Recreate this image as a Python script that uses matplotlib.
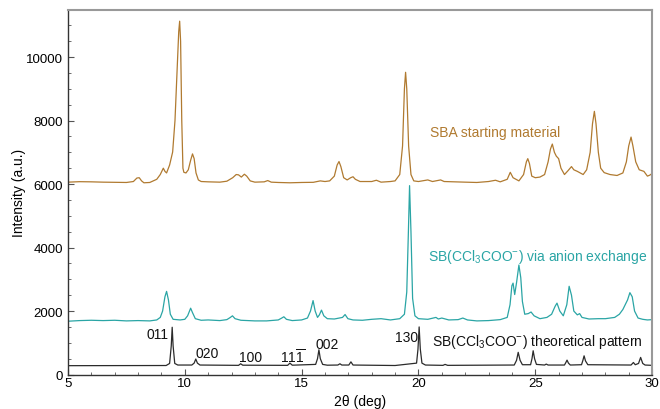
import matplotlib
matplotlib.use('Agg')
import matplotlib.pyplot as plt
from matplotlib.ticker import MultipleLocator

plt.rcParams['font.family'] = ['Liberation Sans', 'DejaVu Sans']
plt.rcParams['mathtext.fontset'] = 'custom'
plt.rcParams['mathtext.rm'] = 'Liberation Sans'
plt.rcParams['mathtext.it'] = 'Liberation Sans:italic'

# SBA starting material (measured)
sba_x = [5.0, 5.5, 6.0, 6.5, 7.0, 7.5, 7.8, 7.95, 8.05, 8.15, 8.25, 8.5, 8.8, 8.95, 9.08,
         9.15, 9.22, 9.35, 9.48, 9.58, 9.66, 9.74, 9.78, 9.82, 9.87, 9.92, 9.96, 10.05, 10.15,
         10.25, 10.33, 10.40, 10.48, 10.58, 10.7, 11.0, 11.5, 11.8, 12.05, 12.2, 12.3, 12.42,
         12.55, 12.65, 12.8, 13.0, 13.4, 13.55, 13.7, 14.0, 14.5, 15.0, 15.5, 15.8, 16.0, 16.2,
         16.4, 16.52, 16.6, 16.68, 16.8, 16.95, 17.1, 17.2, 17.3, 17.5, 18.0, 18.2, 18.4, 18.8,
         19.0, 19.2, 19.32, 19.4, 19.45, 19.5, 19.58, 19.68, 19.8, 20.0, 20.4, 20.6, 20.95, 21.1,
         21.5, 22.0, 22.5, 23.0, 23.3, 23.5, 23.8, 23.93, 24.05, 24.3, 24.5, 24.62, 24.68, 24.75,
         24.85, 25.0, 25.2, 25.4, 25.55, 25.65, 25.73, 25.82, 25.9, 26.0, 26.1, 26.25, 26.4,
         26.55, 26.65, 26.8, 26.9, 27.05, 27.2, 27.35, 27.45, 27.53, 27.6, 27.7, 27.8, 27.95,
         28.2, 28.5, 28.75, 28.9, 29.0, 29.1, 29.18, 29.3, 29.45, 29.65, 29.8, 29.9, 30.0]
sba_y = [6060, 6075, 6070, 6060, 6055, 6050, 6080, 6190, 6200, 6100, 6040, 6050, 6150, 6300, 6500,
         6400, 6350, 6600, 7010, 8000, 9400, 10800, 11130, 10500, 8000, 6500, 6370, 6350, 6450,
         6750, 6950, 6800, 6350, 6130, 6080, 6070, 6060, 6090, 6200, 6300, 6290, 6220,
         6310, 6250, 6100, 6060, 6070, 6110, 6060, 6050, 6040, 6050, 6055, 6100, 6080, 6100,
         6250, 6600, 6710, 6550, 6200, 6130, 6200, 6230, 6150, 6080, 6080, 6120, 6060, 6080,
         6100, 6300, 7200, 9000, 9520, 9000, 7200, 6300, 6100, 6080, 6130, 6080, 6130, 6080,
         6070, 6060, 6050, 6080, 6120, 6070, 6150, 6370, 6200, 6100, 6300, 6700, 6800, 6650,
         6250, 6200, 6220, 6300, 6700, 7100, 7260, 7000, 6880, 6800, 6500, 6300, 6420,
         6550, 6450, 6400, 6360, 6300, 6450, 7000, 7900, 8290, 7900, 7000, 6500, 6360,
         6300, 6270, 6350, 6700, 7200, 7480, 7200, 6700, 6450, 6400, 6250, 6280, 6330]

# SB(CCl3COO-) via anion exchange (measured)
sbx_x = [5.0, 5.5, 6.0, 6.5, 7.0, 7.5, 8.0, 8.5, 8.8, 8.95, 9.05, 9.15, 9.22, 9.3, 9.38, 9.5,
         9.8, 10.0, 10.12, 10.25, 10.33, 10.45, 10.7, 11.0, 11.5, 11.8, 11.95, 12.04, 12.15,
         12.4, 13.0, 13.5, 14.0, 14.15, 14.24, 14.35, 14.6, 15.0, 15.25, 15.38, 15.49, 15.58,
         15.68, 15.76, 15.85, 15.95, 16.1, 16.4, 16.75, 16.86, 16.98, 17.2, 17.6, 18.0, 18.4,
         18.8, 19.2, 19.4, 19.5, 19.57, 19.62, 19.68, 19.75, 19.85, 20.0, 20.4, 20.75, 20.85,
         21.0, 21.3, 21.7, 21.9, 22.1, 22.5, 23.0, 23.5, 23.8, 23.92, 24.0, 24.05, 24.12, 24.2,
         24.3, 24.38, 24.45, 24.55, 24.7, 24.82, 24.95, 25.2, 25.5, 25.7, 25.85, 25.93, 26.05,
         26.2, 26.35, 26.45, 26.55, 26.65, 26.8, 26.9, 27.0, 27.3, 27.7, 28.0, 28.4, 28.6,
         28.75, 28.85, 28.95, 29.05, 29.15, 29.25, 29.4, 29.6, 29.8, 30.0]
sbx_y = [1680, 1700, 1710, 1700, 1710, 1690, 1700, 1690, 1720, 1800, 2000, 2450, 2620, 2350, 1900, 1740,
         1720, 1740, 1850, 2090, 1950, 1760, 1710, 1720, 1700, 1730, 1800, 1850, 1760,
         1710, 1690, 1690, 1720, 1780, 1820, 1740, 1700, 1720, 1780, 2000, 2330, 2000,
         1800, 1880, 2030, 1850, 1760, 1750, 1800, 1890, 1760, 1720, 1710, 1740, 1760,
         1720, 1760, 1900, 2600, 4500, 5950, 4500, 2400, 1850, 1760, 1740, 1800, 1750,
         1780, 1720, 1730, 1780, 1720, 1690, 1700, 1730, 1800, 2200, 2800, 2880, 2520, 2900,
         3450, 3050, 2300, 1900, 1920, 1970, 1850, 1760, 1800, 1900, 2150, 2250, 2000,
         1850, 2200, 2780, 2500, 2000, 1880, 1920, 1800, 1750, 1760, 1760, 1800, 1900,
         2050, 2200, 2350, 2580, 2450, 2000, 1780, 1740, 1720, 1730]

# SB(CCl3COO-) theoretical pattern
theo_x = [5.0, 9.2, 9.35, 9.42, 9.46, 9.5, 9.57, 9.7, 10.3, 10.4, 10.47, 10.54, 10.65, 12.3,
          12.39, 12.48, 14.4, 14.5, 14.6, 15.6, 15.68, 15.74, 15.8, 15.9, 16.1, 16.55, 16.64,
          16.72, 17.02, 17.11, 17.2, 19.0, 19.92, 19.98, 20.03, 20.08, 20.15, 20.3, 21.05,
          21.14, 21.25, 24.1, 24.2, 24.27, 24.35, 24.45, 24.8, 24.86, 24.91, 24.97, 25.05,
          25.4, 25.47, 25.55, 26.25, 26.31, 26.36, 26.42, 26.5, 26.98, 27.04, 27.09, 27.15,
          27.25, 29.1, 29.2, 29.28, 29.42, 29.51, 29.6, 29.7, 30.0]
theo_y = [280, 285, 350, 900, 1490, 900, 350, 300, 300, 360, 490, 360, 300, 290,
          340, 295, 290, 360, 295, 320, 500, 780, 500, 320, 295, 300, 340,
          300, 300, 400, 300, 285, 360, 800, 1500, 800, 360, 300, 290,
          320, 290, 300, 450, 700, 450, 310, 310, 500, 750, 500, 320,
          300, 330, 300, 300, 380, 455, 360, 300, 310, 450, 590, 430,
          310, 300, 380, 310, 350, 540, 350, 300, 290]

# Miller index labels
hkl_text = ['011', '020', '100', r'11$\overline{1}$', '002', '130']
hkl_x = [8.83, 10.95, 12.8, 14.6, 16.1, 19.5]
hkl_y = [1275, 680, 560, 560, 960, 1180]

brown = '#b07a30'
teal = '#2aa5a5'
dark = '#2b2b2b'

fig = plt.figure(figsize=(6.6, 4.1), dpi=100)
ax = fig.add_axes([0.103, 0.084, 0.885, 0.889])

ax.plot(sba_x, sba_y, color=brown, lw=0.9)
ax.plot(sbx_x, sbx_y, color=teal, lw=0.9)
ax.plot(theo_x, theo_y, color=dark, lw=0.9)

for t, x, y in zip(hkl_text, hkl_x, hkl_y):
    ax.text(x, y, t, ha='center', va='center', fontsize=10, color='#111111')

ax.text(20.5, 7640, 'SBA starting material', color=brown, fontsize=10, va='center')
ax.text(20.41, 3730, r'SB(CCl$_3$COO$^{-}$) via anion exchange', color=teal,
        fontsize=10, va='center')
ax.text(20.58, 1055, r'SB(CCl$_3$COO$^{-}$) theoretical pattern', color='#111111',
        fontsize=10, va='center')

ax.set_xlim(5, 30)
ax.set_ylim(0, 11480)
ax.xaxis.set_major_locator(MultipleLocator(5))
ax.xaxis.set_minor_locator(MultipleLocator(1))
ax.yaxis.set_major_locator(MultipleLocator(2000))
ax.yaxis.set_minor_locator(MultipleLocator(500))
ax.tick_params(which='both', direction='in', labelsize=9.5, color='#555555')
ax.tick_params(which='major', length=4)
ax.tick_params(which='minor', length=2.5)
ax.tick_params(axis='x', pad=1.5)

for s in ['top', 'right']:
    ax.spines[s].set_color('#999999')
    ax.spines[s].set_linewidth(1.5)
for s in ['left', 'bottom']:
    ax.spines[s].set_color('#333333')
    ax.spines[s].set_linewidth(1.0)

ax.set_xlabel('2θ (deg)', fontsize=10)
ax.set_ylabel('Intensity (a.u.)', fontsize=10)
ax.xaxis.set_label_coords(0.5, -0.054)
ax.yaxis.set_label_coords(-0.072, 0.5)

plt.savefig('out.png', dpi=100)
